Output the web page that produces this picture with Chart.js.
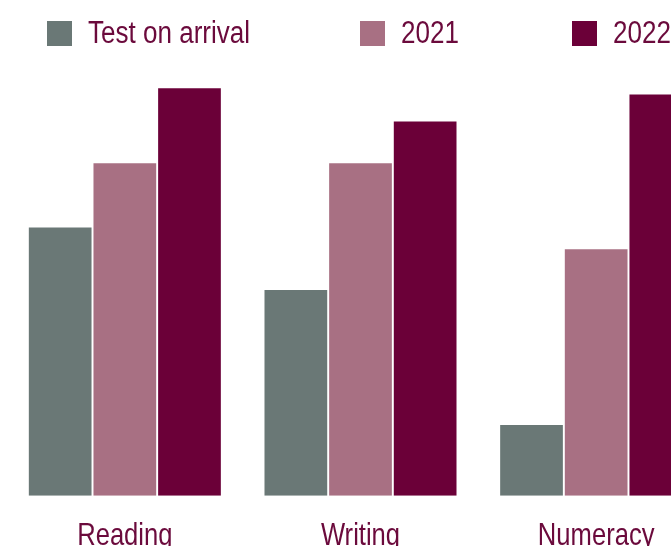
<!DOCTYPE html>
<html>
<head>
<meta charset="utf-8">
<script src="https://cdn.jsdelivr.net/npm/chart.js@4.4.1/dist/chart.umd.min.js"></script>
<style>
    html, body { margin: 0; padding: 0; background: #fff; overflow: hidden; }
    #page { position: relative; width: 671px; height: 546px; overflow: hidden; }
    #wrap { position: absolute; left: 0; top: 0; width: 720px; height: 584px; }
    #legend { position: absolute; left: 0; top: 0; width: 671px; height: 60px; }
    .lg-item { position: absolute; top: 17px; height: 32px; display: flex; align-items: center;
        font-family: "Liberation Sans", Arial, sans-serif; font-size: 31px; color: #6b0a3c; white-space: nowrap; }
    .lg-box { width: 25px; height: 25px; margin-right: 16px; flex: none; }
    .lg-text { display: inline-block; transform: scaleX(0.84); transform-origin: left center; }
</style>
</head>
<body>
<div id="page">
    <div id="wrap"><canvas id="bars"></canvas></div>
    <div id="legend"></div>
</div>
<script>
    // Data
    var categories = ["Reading", "Writing", "Numeracy"];
    var seriesNames = ["Test on arrival", "2021", "2022"];
    var testOnArrival = [64.5, 49.5, 17];
    var year2021 = [80, 80, 59.3];
    var year2022 = [98, 90, 96.5];

    var colors = ["#6a7876", "#a87083", "#6b0038"];
    var textColor = "#6b0a3c";
    var font = "'Liberation Sans', Arial, sans-serif";

    // narrow category labels (no condensed font installed, so squeeze the regular one)
    var narrowLabels = {
        id: "narrowLabels",
        afterDraw: function (chart) {
            var x = chart.scales.x;
            var c = chart.ctx;
            c.save();
            c.fillStyle = textColor;
            c.font = "32px " + font;
            c.textAlign = "center";
            c.textBaseline = "top";
            x.ticks.forEach(function (t, i) {
                var px = x.getPixelForTick(i);
                c.save();
                c.translate(px, x.top + 24);
                c.scale(0.8, 1);
                c.fillText(chart.data.labels[i], 0, 0);
                c.restore();
            });
            c.restore();
        }
    };

    // Bar chart
    var ctx = document.getElementById("bars").getContext("2d");
    var chart = new Chart(ctx, {
        type: "bar",
        data: {
            labels: categories,
            datasets: [
                { label: seriesNames[0], data: testOnArrival, backgroundColor: colors[0] },
                { label: seriesNames[1], data: year2021, backgroundColor: colors[1] },
                { label: seriesNames[2], data: year2022, backgroundColor: colors[2] }
            ]
        },
        options: {
            responsive: true,
            maintainAspectRatio: false,
            animation: false,
            datasets: { bar: { categoryPercentage: 0.823, barPercentage: 0.97 } },
            layout: { padding: { top: 80, left: 7, right: 6, bottom: 13 } },
            plugins: { legend: { display: false }, tooltip: { enabled: false } },
            scales: {
                x: {
                    grid: { display: false },
                    border: { display: false },
                    ticks: { color: "rgba(0,0,0,0)", padding: 15, font: { family: font, size: 31 } }
                },
                y: { display: false, min: 0, max: 100 }
            }
        },
        plugins: [narrowLabels]
    });

    // Legend
    var legendLeft = [47, 360, 572];
    var legend = document.getElementById("legend");
    seriesNames.forEach(function (name, i) {
        var item = document.createElement("div");
        item.className = "lg-item";
        item.style.left = legendLeft[i] + "px";
        item.innerHTML = '<span class="lg-box" style="background:' + colors[i] + '"></span><span class="lg-text">' + name + '</span>';
        legend.appendChild(item);
    });
</script>
</body>
</html>
